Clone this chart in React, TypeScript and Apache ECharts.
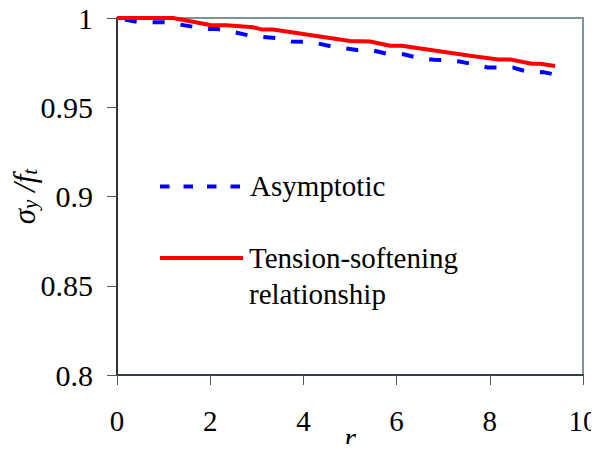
import React, { useEffect, useRef } from "react";
import * as echarts from "echarts";

const asymR = [0, 0.45, 1.0, 1.25, 1.65, 1.9, 2.15, 2.45, 2.85, 3.45, 3.75, 4.0, 4.3, 4.65, 5.15, 5.45, 5.8, 6.15, 6.5, 6.8, 7.0, 7.35, 7.65, 7.95, 8.5, 8.85, 9.15, 9.38];
const asymV = [1, 0.9978, 0.9976, 0.9968, 0.995, 0.9938, 0.9938, 0.9925, 0.9901, 0.9886, 0.9868, 0.9867, 0.9858, 0.9838, 0.9821, 0.9821, 0.9799, 0.9797, 0.9774, 0.9766, 0.9765, 0.9756, 0.9741, 0.9723, 0.9722, 0.9696, 0.9697, 0.9684];

const tsR = [0, 1.2, 2.0, 2.35, 2.92, 3.1, 3.35, 5.0, 5.43, 5.86, 6.11, 7.58, 8.18, 8.43, 8.9, 9.08, 9.4];
const tsV = [1, 1.0, 0.9961, 0.996, 0.9948, 0.9936, 0.9936, 0.9871, 0.9868, 0.9845, 0.9845, 0.9789, 0.9768, 0.9768, 0.9744, 0.9744, 0.9731];

const seriesNames = ["Asymptotic", "Tension-softening\nrelationship"];
const xTicks = { min: 0, max: 10, interval: 2 };
const yTicks = { min: 0.8, max: 1, interval: 0.05 };

const FONT = "Liberation Serif";

export default function App() {
  const ref = useRef<HTMLDivElement>(null);
  useEffect(() => {
    if (!ref.current) return;
    const chart = echarts.init(ref.current, null, { renderer: "svg" });
    const zip = (a: number[], b: number[]) => a.map((v, i) => [v, b[i]]);
    chart.setOption({
      animation: false,
      backgroundColor: "#ffffff",
      grid: {
        left: 117,
        right: 16,
        top: 18,
        bottom: 77,
        show: true,
        borderColor: "#7b9599",
        borderWidth: 2,
        backgroundColor: "transparent",
        containLabel: false,
        outerBoundsMode: "none",
      },
      xAxis: {
        type: "value",
        min: xTicks.min,
        max: xTicks.max,
        interval: xTicks.interval,
        name: "r",
        nameLocation: "middle",
        nameGap: 47,
        nameMoveOverlap: false,
        nameTextStyle: { fontFamily: FONT, fontSize: 30, fontStyle: "italic", color: "#000" },
        axisLine: { show: true, onZero: false, lineStyle: { color: "#2f4146", width: 2 } },
        axisTick: { show: true, length: 10, lineStyle: { color: "#555", width: 1 } },
        axisLabel: { fontFamily: FONT, fontSize: 29, color: "#000", margin: 31 },
        splitLine: { show: false },
      },
      yAxis: {
        type: "value",
        min: yTicks.min,
        max: yTicks.max,
        interval: yTicks.interval,
        name: "{s|σ}{sub|y}{s| /}{s|f}{sub|t}",
        nameLocation: "middle",
        nameGap: 77,
        nameMoveOverlap: false,
        nameRotate: 90,
        nameTextStyle: {
          fontFamily: FONT,
          color: "#000",
          rich: {
            s: { fontFamily: FONT, fontSize: 31, fontStyle: "italic", color: "#000", lineHeight: 32, verticalAlign: "bottom" },
            sub: { fontFamily: FONT, fontSize: 21, fontStyle: "italic", color: "#000", lineHeight: 24, verticalAlign: "bottom" },
          },
        },
        axisLine: { show: true, lineStyle: { color: "#333", width: 2 } },
        axisTick: { show: true, length: 10, lineStyle: { color: "#555", width: 1 } },
        axisLabel: { fontFamily: FONT, fontSize: 30, color: "#000", margin: 24 },
        splitLine: { show: false },
      },
      series: [
        {
          name: seriesNames[0],
          type: "line",
          data: zip(asymR, asymV),
          showSymbol: false,
          symbol: "none",
          lineStyle: { color: "#0000ff", width: 4, type: [12, 16], dashOffset: 20, cap: "butt" },
          z: 2,
        },
        {
          name: seriesNames[1],
          type: "line",
          data: zip(tsR, tsV),
          showSymbol: false,
          symbol: "none",
          lineStyle: { color: "#ff0000", width: 4 },
          z: 3,
        },
      ],
      graphic: [
        {
          type: "line",
          shape: { x1: 160, y1: 186.5, x2: 243, y2: 186.5 },
          style: { stroke: "#0000ff", lineWidth: 4, lineDash: [9.5, 14] },
        },
        {
          type: "text",
          left: 250,
          top: 170,
          style: { text: seriesNames[0], fontFamily: FONT, fontSize: 29, fill: "#000", lineHeight: 32 },
        },
        {
          type: "line",
          shape: { x1: 160, y1: 258, x2: 243, y2: 258 },
          style: { stroke: "#ff0000", lineWidth: 4 },
        },
        {
          type: "text",
          left: 249,
          top: 240,
          style: { text: seriesNames[1], fontFamily: FONT, fontSize: 29, fill: "#000", lineHeight: 36 },
        },
      ],
    });
    return () => chart.dispose();
  }, []);
  return <div ref={ref} style={{ width: 599, height: 452, margin: -8 }} />;
}
